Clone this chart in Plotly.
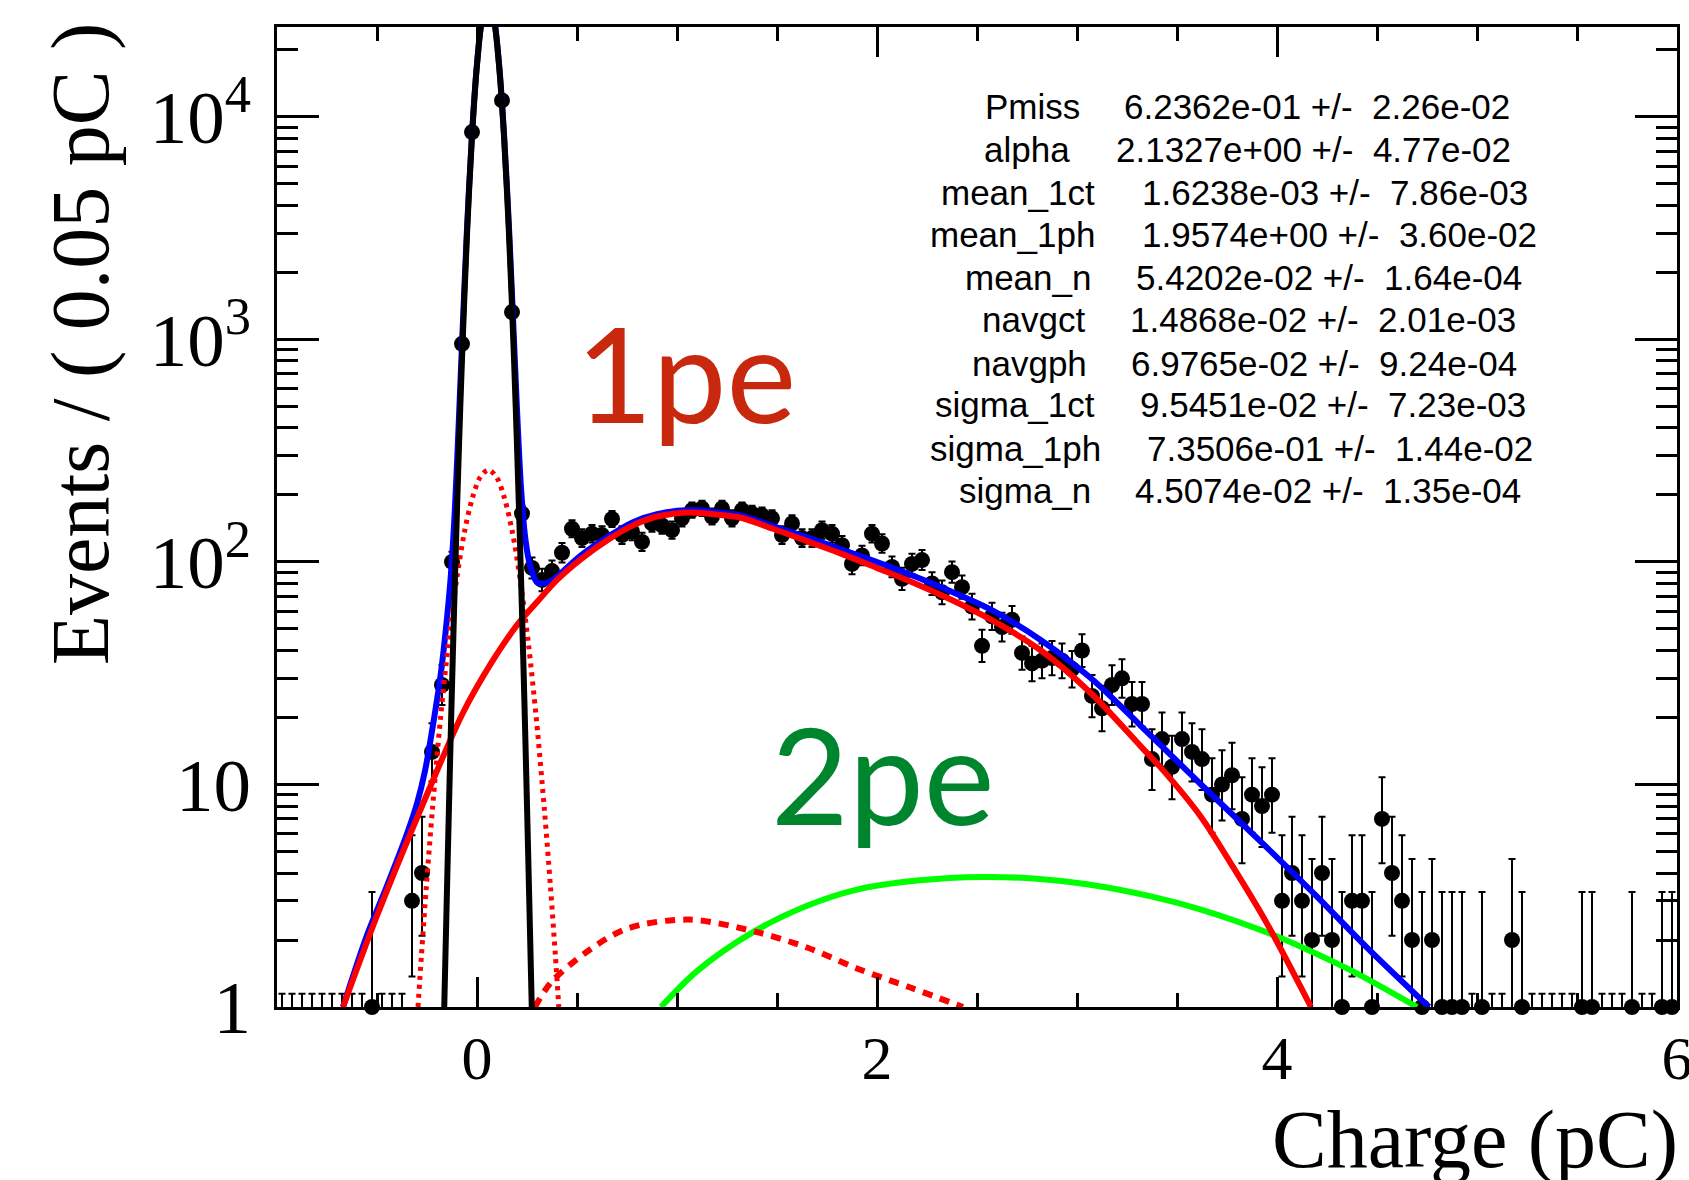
import math
import plotly.graph_objects as go

# ---------------- data ----------------
BIN_LO = -1.0
BIN_W = 0.05
N_BINS = 140
charge = [round(BIN_LO + BIN_W * (i + 0.5), 3) for i in range(N_BINS)]

counts = [
    0, 0, 0, 0, 0, 0, 0, 0, 0, 1, 0, 0, 0,                 # -0.975 .. -0.375
    3, 4, 14, 28, 100, 955, 8550, 28700, 31900, 11860, 1327,  # -0.325 .. 0.175
    165, 94, 83, 91, 110, 141, 128, 134, 132, 156,          # 0.225 .. 0.675
    132, 137, 123, 149, 146, 139, 157, 171, 174, 160,       # 0.725 .. 1.175
    174, 157, 171, 165, 162, 157, 132, 149, 128, 128,       # 1.225 .. 1.675
    139, 134, 119, 98, 107, 134, 121, 95, 84, 98,           # 1.725 .. 2.175
    102, 80, 73, 90, 77, 63, 42, 57, 51, 55,                # 2.225 .. 2.675
    39, 35, 36, 37, 36, 33, 40, 25, 22, 28,                 # 2.725 .. 3.175
    30, 23, 23, 13, 16, 12, 16, 14, 13, 9,                  # 3.225 .. 3.675
    10, 11, 7, 9, 8, 9, 3, 4, 3, 2,                         # 3.725 .. 4.175
    4, 2, 1, 3, 3, 1, 7, 4, 3, 2,                           # 4.225 .. 4.675
    1, 2, 1, 1, 1, 0, 1, 0, 0, 2,                           # 4.725 .. 5.175
    1, 0, 0, 0, 0, 0, 1, 1, 0, 0,                           # 5.225 .. 5.675
    0, 1, 0, 0, 1, 1,                                       # 5.725 .. 5.975
]

# fitted curves
total_x = [-0.67, -0.55, -0.45, -0.35, -0.30, -0.26, -0.22, -0.18, -0.15, -0.13, -0.11,
           -0.09, -0.075, -0.05, -0.025, 0.0, 0.025, 0.055, 0.085, 0.11, 0.135, 0.16,
           0.185, 0.20, 0.22, 0.24, 0.26, 0.28, 0.30, 0.33, 0.36, 0.40, 0.52, 0.65,
           0.78, 0.90, 1.07, 1.23, 1.32, 1.48, 1.65, 1.82, 2.0, 2.15, 2.35, 2.57, 2.82,
           3.07, 3.32, 3.53, 3.62, 3.95, 4.19, 4.45, 4.76]
total_y = [1.0, 2.1, 3.5, 6.0, 8.2, 11.5, 18.5, 32, 56, 89, 177,
           449, 956, 3144, 8383, 17350, 27470, 33400, 27500, 17370, 8410, 3175,
           990, 484, 216, 131, 101, 88, 81, 80, 81, 86, 107, 129,
           151, 164, 171, 166, 162, 145, 129, 114, 100, 89, 75, 61, 44.5,
           30, 18.3, 12.0, 10.0, 5.2, 3.2, 1.85, 1.0]

onepe_x = [-0.67, -0.5, -0.28, -0.07, 0.07, 0.2, 0.3, 0.4, 0.52, 0.65, 0.78, 0.9,
           1.07, 1.23, 1.32, 1.48, 1.65, 1.82, 2.0, 2.15, 2.35, 2.57, 2.82, 3.07, 3.32,
           3.43, 3.62, 3.78, 3.95, 4.17]
onepe_y = [1.0, 2.57, 7.8, 21, 35, 52, 66, 83, 103, 125, 146, 160,
           167, 162, 158, 141, 124, 109, 94, 83, 69, 55, 40, 25.7, 14.8,
           11.6, 7.15, 4.26, 2.37, 1.0]

twope_x = [0.92, 1.1, 1.38, 1.65, 1.9, 2.2, 2.53, 2.8, 3.05, 3.37, 3.62, 3.97, 4.1, 4.37, 4.70]
twope_y = [1.0, 1.45, 2.17, 2.85, 3.37, 3.7, 3.84, 3.77, 3.56, 3.14, 2.74, 2.13, 1.9, 1.46, 1.0]

ct1pe_x = [0.29, 0.37, 0.56, 0.75, 1.06, 1.40, 1.65, 1.90, 2.17, 2.43]
ct1pe_y = [1.0, 1.29, 1.8, 2.25, 2.47, 2.17, 1.85, 1.49, 1.22, 1.0]

ctped_x = [-0.295, -0.278, -0.253, -0.223, -0.183, -0.143, -0.103, -0.063, -0.023, 0.017,
           0.057, 0.097, 0.137, 0.177, 0.217, 0.257, 0.297, 0.337, 0.367, 0.392, 0.409]
ctped_y = [1.0, 1.7, 3.5, 7.7, 19.6, 43, 82, 136, 194, 241,
           259, 241, 194, 136, 82, 43, 19.6, 7.7, 3.5, 1.7, 1.0]

ped_x = [-0.165, -0.15, -0.13, -0.11, -0.09, -0.075, -0.05, -0.025, 0.0, 0.025, 0.055,
         0.085, 0.11, 0.135, 0.16, 0.185, 0.20, 0.22, 0.24, 0.26, 0.275]
ped_y = [0.9, 3.4, 18.6, 86, 333, 820, 2970, 8170, 17100, 27200, 33100,
         27200, 17100, 8170, 2970, 820, 333, 86, 18.6, 3.4, 0.9]

par_names = ["Pmiss", "alpha", "mean_1ct", "mean_1ph", "mean_n",
             "navgct", "navgph", "sigma_1ct", "sigma_1ph", "sigma_n"]
par_values = ["6.2362e-01", "2.1327e+00", "1.6238e-03", "1.9574e+00", "5.4202e-02",
              "1.4868e-02", "6.9765e-02", "9.5451e-02", "7.3506e-01", "4.5074e-02"]
par_errors = ["2.26e-02", "4.77e-02", "7.86e-03", "3.60e-02", "1.64e-04",
              "2.01e-03", "9.24e-04", "7.23e-03", "1.44e-02", "1.35e-04"]

Y_TOP = 4.404   # log10 of the upper y limit

# ---------------- layout helpers (pixels) ----------------
W, H = 1689, 1180
PL, PR, PT, PB = 277, 12, 27, 173
PW, PH = W - PL - PR, H - PT - PB


def px(xp):
    return (xp - PL) / PW


def py(yp):
    return (PT + PH - yp) / PH


def poisson_interval(n):
    if n == 0:
        return 0.0, 1.1479
    lo = n * (1 - 1 / (9 * n) - 1 / (3 * math.sqrt(n))) ** 3
    m = n + 1
    up = m * (1 - 1 / (9 * m) + 1 / (3 * math.sqrt(m))) ** 3
    return lo, up


ey, ep, em = [], [], []
for n in counts:
    lo, up = poisson_interval(n)
    yc = n if n > 0 else up
    ey.append(yc)
    ep.append(up - yc)
    em.append(yc - lo)

fig = go.Figure()

# error bars (clipped at the frame)
fig.add_trace(go.Scatter(
    x=charge, y=ey, mode="markers",
    marker=dict(size=1, color="black", opacity=0),
    error_y=dict(type="data", symmetric=False, array=ep, arrayminus=em,
                 color="black", thickness=2, width=3.5),
    cliponaxis=True, hoverinfo="skip"))

# data markers (not clipped so that points sitting on the bottom edge stay round)
mx = [c for c, n in zip(charge, counts) if 1 <= n <= 10 ** Y_TOP]
my = [n for n in counts if 1 <= n <= 10 ** Y_TOP]
fig.add_trace(go.Scatter(x=mx, y=my, mode="markers",
                         marker=dict(size=16, color="black"),
                         cliponaxis=False, hoverinfo="skip"))

line_common = dict(shape="spline", smoothing=0.9)
fig.add_trace(go.Scatter(x=twope_x, y=twope_y, mode="lines",
                         line=dict(color="#00ff00", width=6, **line_common)))
fig.add_trace(go.Scatter(x=total_x, y=total_y, mode="lines",
                         line=dict(color="#0000ff", width=6, **line_common)))
fig.add_trace(go.Scatter(x=onepe_x, y=onepe_y, mode="lines",
                         line=dict(color="#ff0000", width=6, **line_common)))
fig.add_trace(go.Scatter(x=ct1pe_x, y=ct1pe_y, mode="lines",
                         line=dict(color="#ff0000", width=6, dash="10px,8px", **line_common)))
fig.add_trace(go.Scatter(x=ctped_x, y=ctped_y, mode="lines",
                         line=dict(color="#ff0000", width=5, dash="4px,5px", **line_common)))
fig.add_trace(go.Scatter(x=ped_x, y=ped_y, mode="lines",
                         line=dict(color="black", width=6, **line_common)))

serif = "Liberation Serif, Times New Roman, serif"

fig.update_xaxes(
    range=[-1, 6], tickmode="linear", tick0=0, dtick=2, automargin=False,
    ticks="inside", ticklen=30, tickwidth=3, tickcolor="black",
    showline=True, linewidth=3, linecolor="black", mirror="ticks",
    showgrid=False, zeroline=False,
    tickfont=dict(family=serif, size=62, color="black"),
    ticklabelstandoff=-5, ticklabeloverflow="allow",
    minor=dict(ticks="inside", ticklen=14, tickwidth=3, tickcolor="black",
               tick0=0, dtick=0.5, showgrid=False))
fig.update_yaxes(
    type="log", range=[0, Y_TOP], tickmode="linear", tick0=0, dtick=1, automargin=False,
    exponentformat="power",
    ticks="inside", ticklen=42, tickwidth=3, tickcolor="black",
    showline=True, linewidth=3, linecolor="black", mirror="ticks",
    showgrid=False, zeroline=False,
    tickfont=dict(family=serif, size=60, color="black"),
    ticklabelstandoff=11, ticklabeloverflow="allow",
    minor=dict(ticks="inside", ticklen=21, tickwidth=3, tickcolor="black",
               dtick="D1", showgrid=False))

ann = []
ann.append(dict(text="Events / ( 0.05 pC )", textangle=-90, xref="paper", yref="paper",
                x=px(80), y=py(344), xanchor="center", yanchor="middle", showarrow=False,
                font=dict(family=serif, size=82, color="black")))
ann.append(dict(text="Charge (pC)", xref="paper", yref="paper",
                x=px(1680), y=py(1139), xanchor="right", yanchor="middle", showarrow=False,
                font=dict(family=serif, size=82, color="black")))
ann.append(dict(text="1pe", xref="paper", yref="paper", x=px(686), y=py(372),
                xanchor="center", yanchor="middle", showarrow=False,
                font=dict(family="Lato, Noto Sans, sans-serif", size=132, color="#c8280e")))
ann.append(dict(text="2pe", xref="paper", yref="paper", x=px(883), y=py(773),
                xanchor="center", yanchor="middle", showarrow=False,
                font=dict(family="Lato, Noto Sans, sans-serif", size=134, color="#00852f")))

row_y = [106.6, 149.7, 192.8, 234.8, 277.9, 319.9, 363.0, 405.0, 448.1, 490.1]
label_right = [1082.4, 1072, 1097, 1097, 1092.8, 1086.6, 1088.6, 1097, 1103, 1092.8]
value_left = [1121.8, 1113.5, 1139.6, 1139.6, 1134.2, 1128, 1128.9, 1138.4, 1144.6, 1133]
pfont = dict(family="Liberation Sans, Arial, sans-serif", size=35, color="black")
NB = "\u00a0"
for i, name in enumerate(par_names):
    ann.append(dict(text=name, xref="paper", yref="paper", x=px(label_right[i]), y=py(row_y[i]),
                    xanchor="right", yanchor="middle", showarrow=False, font=pfont))
    ann.append(dict(text=par_values[i] + NB + "+/-" + NB + NB + par_errors[i],
                    xref="paper", yref="paper", x=px(value_left[i]), y=py(row_y[i]),
                    xanchor="left", yanchor="middle", showarrow=False, font=pfont))

fig.update_layout(width=W, height=H, margin=dict(l=PL, r=PR, t=PT, b=PB, pad=0, autoexpand=False),
                  paper_bgcolor="white", plot_bgcolor="white", showlegend=False,
                  annotations=ann, hovermode=False)

fig.write_html("out.html", config={"displayModeBar": False})
